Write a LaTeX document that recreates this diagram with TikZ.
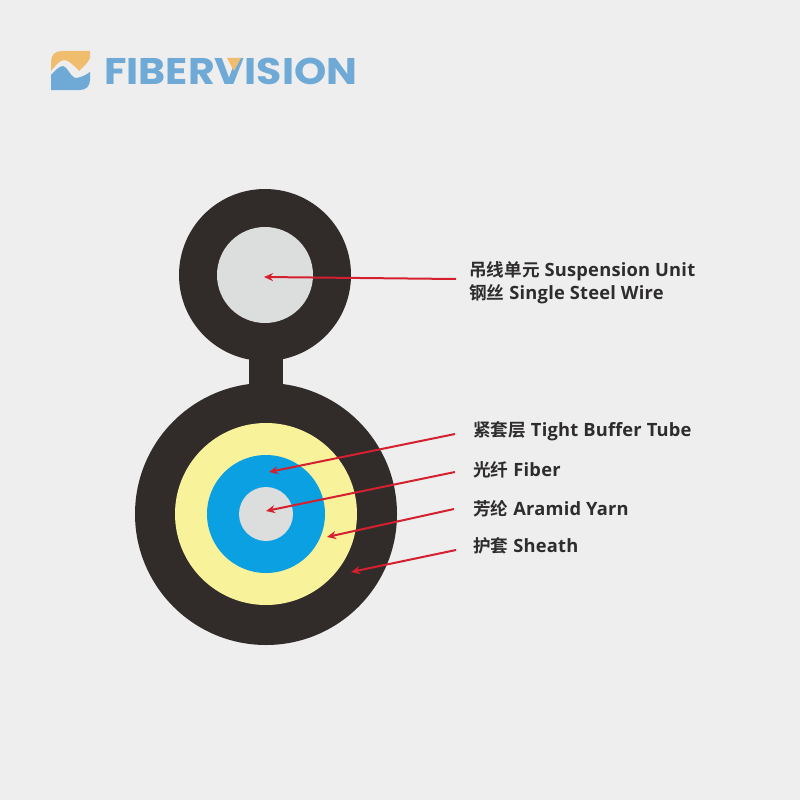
\documentclass[tikz,border=0pt]{standalone}
\usepackage{fontspec}
\usepackage{graphicx}
\setmainfont{Open Sans}[LetterSpace=1.2]
\newfontfamily\cjkfont{Noto Sans CJK SC}[BoldFont=* Bold]
\newfontfamily\logofont{Poppins}
\usetikzlibrary{arrows.meta}
\definecolor{bgc}{HTML}{EEEEEE}
\definecolor{darkc}{HTML}{312B2A}
\definecolor{greyc}{HTML}{DCDDDD}
\definecolor{yellowc}{HTML}{F8F29B}
\definecolor{bluec}{HTML}{0BA0E2}
\definecolor{redc}{HTML}{D5202F}
\definecolor{logob}{HTML}{6FA9D6}
\definecolor{logoo}{HTML}{F0BC6E}
\definecolor{textc}{HTML}{2E2C2C}
\tikzset{
  lbl/.style={anchor=west,inner sep=0pt,text=textc,font=\bfseries\fontsize{18.3}{22}\selectfont,align=left},
  leader/.style={draw=redc,line width=2pt,-{Stealth[length=9pt,width=8pt]}},
  ring/.style={circle,inner sep=0pt,minimum size=#1}
}
\newcommand{\zh}[1]{{\cjkfont\bfseries\fontsize{17.6}{22}\selectfont #1}}
\begin{document}
\begin{tikzpicture}[x=1pt,y=-1pt]
\useasboundingbox (0,0) rectangle (800,800);
\fill[bgc] (0,0) rectangle (800,800);
% logo icon
\fill[logoo] (51,71) -- (51,62) .. controls (51,55) and (55,51) .. (62,51) -- (90,51) -- (90,58)
  .. controls (88,63) and (83,67) .. (79,71) .. controls (74,66) and (69,60) .. (64,60) .. controls (60,60) and (55,66) .. (51,71) -- cycle;
\fill[logob] (51,75) .. controls (55,71) and (59,66) .. (63,66) .. controls (67,66) and (70,76) .. (75,78) .. controls (80,78) and (86,75) .. (90,72)
  -- (90,80) .. controls (90,86) and (86,90) .. (80,90) -- (51,90) -- cycle;
\draw[bgc,line width=1.5pt,line cap=round] (61,63) .. controls (64,61) and (67,61) .. (69,63) -- (77,70);
% logo text
\node[anchor=west,inner sep=0pt,text=logob] (logotext) at (104,71)
  {\scalebox{1.14}[1.03]{\logofont\bfseries\fontsize{36}{36}\selectfont FIBERVISION}};
\fill[logoo] (227,58) -- (241,58) -- (234,71) -- cycle;
% suspension unit
\node[ring=172pt,fill=darkc] (upper) at (265,275) {};
\fill[darkc] (249,350) rectangle (283,395);
\node[ring=96pt,fill=greyc] (steel) at (265,275) {};
% main cable
\node[ring=262pt,fill=darkc] (sheath) at (266,514) {};
\node[ring=182pt,fill=yellowc] (yarn) at (266,514) {};
\node[ring=118pt,fill=bluec] (tube) at (266,514) {};
\node[ring=54pt,fill=greyc] (fiber) at (266,514) {};
% labels
\node[lbl] (l1) at (469,271) {\zh{吊线单元} Suspension Unit};
\node[lbl] (l2) at (469,294) {\zh{钢丝} Single Steel Wire};
\node[lbl] (l3) at (473,431) {\zh{紧套层} Tight Buffer Tube};
\node[lbl] (l4) at (473,470) {\zh{光纤} Fiber};
\node[lbl] (l5) at (473,509) {\zh{芳纶} Aramid Yarn};
\node[lbl] (l6) at (473,546) {\zh{护套} Sheath};
% leader ends
\coordinate (s1) at (456,279); \coordinate (e1) at (264,277);
\coordinate (s3) at (455,434); \coordinate (e3) at (269,472);
\coordinate (s4) at (455,472); \coordinate (e4) at (266,511);
\coordinate (s5) at (454,509); \coordinate (e5) at (327,537);
\coordinate (s6) at (456,550); \coordinate (e6) at (351,572);
\draw[leader] (s1) -- (e1);
\draw[leader] (s3) -- (e3);
\draw[leader] (s4) -- (e4);
\draw[leader] (s5) -- (e5);
\draw[leader] (s6) -- (e6);
\end{tikzpicture}
\end{document}
